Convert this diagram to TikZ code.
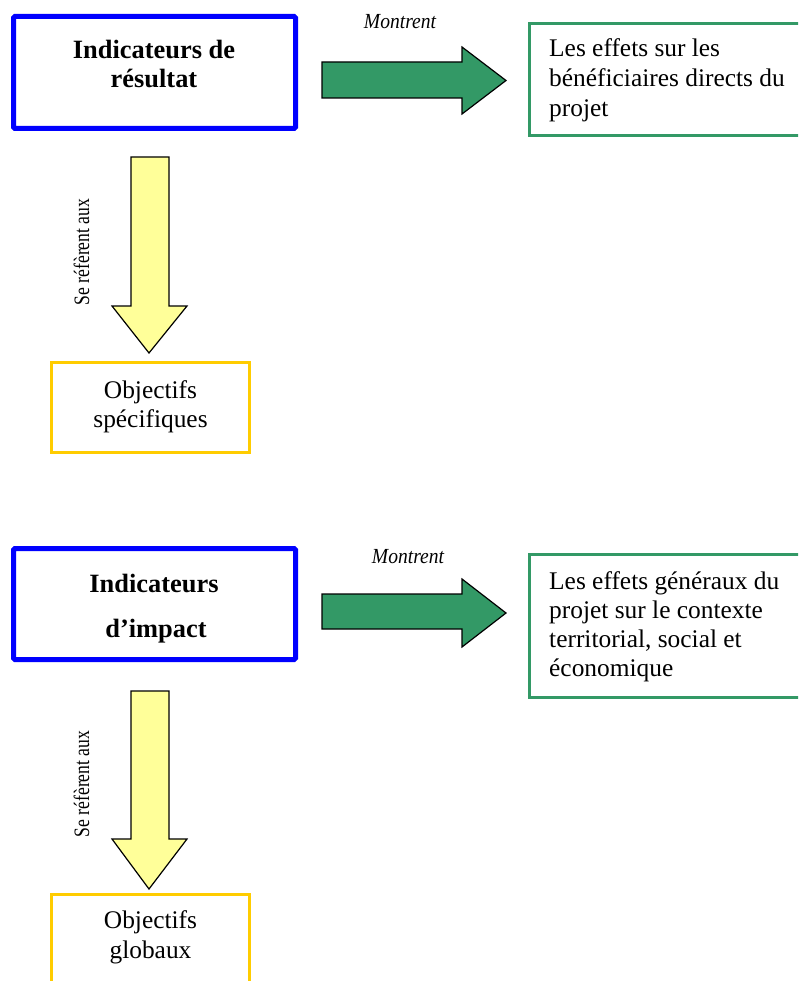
\documentclass[tikz,border=0pt]{standalone}
\usepackage{fontspec}
\setmainfont{Liberation Serif}
\definecolor{boxblue}{HTML}{0000FF}
\definecolor{effgreen}{HTML}{339966}
\definecolor{arrgreen}{HTML}{339966}
\definecolor{objyellow}{HTML}{FFCC00}
\definecolor{arryellow}{HTML}{FFFF99}
\begin{document}
\begin{tikzpicture}[x=1pt,y=-1pt,
  indbox/.style={draw=boxblue,line width=5pt,rounded corners=1.5pt,inner sep=0pt,outer sep=0pt,minimum width=282pt,minimum height=112pt},
  effbox/.style={draw=effgreen,line width=3pt,inner sep=0pt,outer sep=0pt,anchor=north west,minimum width=320pt},
  objbox/.style={draw=objyellow,line width=3pt,inner sep=0pt,outer sep=0pt,anchor=north west,minimum width=198pt},
  greenarrow/.style={fill=arrgreen,draw=black,line width=1.2pt,line join=miter},
  yellowarrow/.style={fill=arryellow,draw=black,line width=1.2pt,line join=miter},
  boldtxt/.style={font=\fontsize{26.4}{30}\selectfont\bfseries,anchor=base,inner sep=0pt},
  lefttxt/.style={font=\fontsize{25.4}{30}\selectfont,anchor=base west,inner sep=0pt},
  midtxt/.style={font=\fontsize{25.4}{30}\selectfont,anchor=base,inner sep=0pt},
  verbtxt/.style={font=\fontsize{21.5}{24}\selectfont\itshape,anchor=base,inner sep=0pt},
  sidetxt/.style={font=\fontsize{22}{24}\selectfont,anchor=base,inner sep=0pt,rotate=90}
]
\useasboundingbox (0,0) rectangle (798,981);
\clip (0,0) rectangle (798,981);

% ---------- top group ----------
\node[indbox] (ind1) at (154.5,72.5) {};
\node[boldtxt] (ind1a) at (154,59) {Indicateurs de};
\node[boldtxt] (ind1b) at (154,88) {résultat};

\node[verbtxt] (mon1) at (400,29) {\scalebox{0.91}[1]{Montrent}};
\draw[greenarrow] (322,62) -- (462,62) -- (462,47) -- (506,80.5) -- (462,114) -- (462,98) -- (322,98) -- cycle;

\node[effbox,minimum height=112pt] (eff1) at (529.5,23.5) {};
\node[lefttxt] (eff1a) at (549,57) {Les effets sur les};
\node[lefttxt] (eff1b) at (549,87) {bénéficiaires directs du};
\node[lefttxt] (eff1c) at (549,117) {projet};

\draw[yellowarrow] (131,157) -- (169,157) -- (169,306) -- (187,306) -- (149,353) -- (112,306) -- (131,306) -- cycle;
\node[sidetxt] (ref1) at (89,252) {\scalebox{0.8}[1]{Se réfèrent aux}};

\node[objbox,minimum height=90pt] (obj1) at (51.5,362.5) {};
\node[midtxt] (obj1a) at (150.5,398) {Objectifs};
\node[midtxt] (obj1b) at (150.5,427) {spécifiques};

% ---------- bottom group ----------
\node[indbox,minimum height=111pt] (ind2) at (154.5,604) {};
\node[boldtxt] (ind2a) at (154,592) {Indicateurs};
\node[boldtxt] (ind2b) at (156,637) {d’impact};

\node[verbtxt] (mon2) at (408,563) {\scalebox{0.91}[1]{Montrent}};
\draw[greenarrow] (322,594) -- (462,594) -- (462,579) -- (506,613) -- (462,647) -- (462,629) -- (322,629) -- cycle;

\node[effbox,minimum height=143pt] (eff2) at (529.5,554.5) {};
\node[lefttxt] (eff2a) at (549,589) {Les effets généraux du};
\node[lefttxt] (eff2b) at (549,618) {projet sur le contexte};
\node[lefttxt] (eff2c) at (549,647) {territorial, social et};
\node[lefttxt] (eff2d) at (549,676) {économique};

\draw[yellowarrow] (131,691) -- (169,691) -- (169,839) -- (187,839) -- (149,889) -- (112,839) -- (131,839) -- cycle;
\node[sidetxt] (ref2) at (89,784) {\scalebox{0.8}[1]{Se réfèrent aux}};

\node[objbox,minimum height=120pt] (obj2) at (51.5,894.5) {};
\node[midtxt] (obj2a) at (150.5,928) {Objectifs};
\node[midtxt] (obj2b) at (150.5,958) {globaux};
\end{tikzpicture}
\end{document}
